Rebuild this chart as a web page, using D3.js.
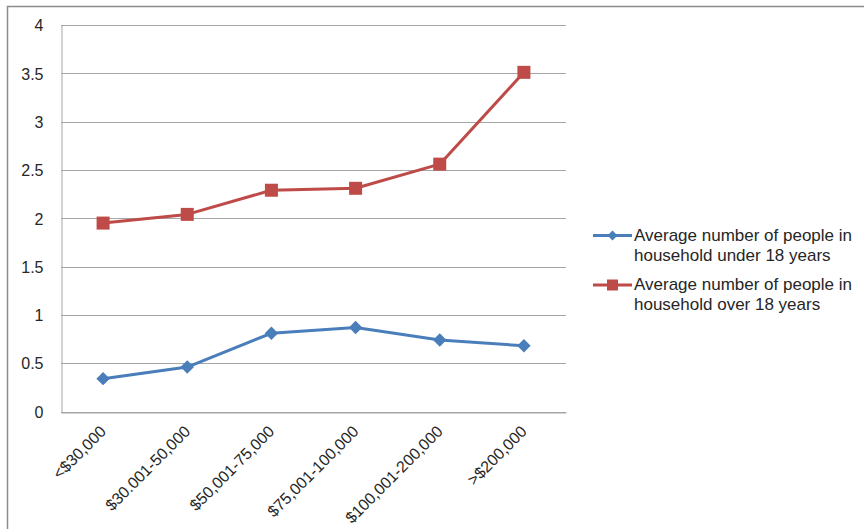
<!DOCTYPE html>
<html>
<head>
<meta charset="utf-8">
<script src="https://cdn.jsdelivr.net/npm/d3@7"></script>
<style>
  html, body { margin: 0; padding: 0; background: #fff; }
  svg { display: block; font-family: "Liberation Sans", Arial, sans-serif; }
</style>
</head>
<body>
<svg id="chart" width="864" height="529"></svg>
<script>
// Household composition by income bracket
const categories = ["<$30,000", "$30.001-50,000", "$50,001-75,000", "$75,001-100,000", "$100,001-200,000", ">$200,000"];
const under18 = [0.34, 0.46, 0.81, 0.87, 0.74, 0.68];
const over18 = [1.95, 2.04, 2.29, 2.31, 2.56, 3.51];
const yTicks = [0, 0.5, 1, 1.5, 2, 2.5, 3, 3.5, 4];
const seriesNames = ["Average number of people in household under 18 years",
                     "Average number of people in household over 18 years"];

const svg = d3.select("#chart");
const W = 864, H = 529;
const plot = { left: 61, right: 566, top: 25, bottom: 411.5 };
const textColor = "#262626";

// Outer chart frame
svg.append("rect")
  .attr("x", 7.5).attr("y", 6.5)
  .attr("width", W + 20).attr("height", H + 20)
  .attr("fill", "none").attr("stroke", "#8c8c8c").attr("stroke-width", 1.5);

const x = d3.scaleBand().domain(categories).range([plot.left, plot.right]);
const y = d3.scaleLinear().domain([0, 4]).range([plot.bottom, plot.top]);

// Horizontal gridlines
svg.append("g")
  .selectAll("line").data(yTicks).join("line")
  .attr("x1", plot.left).attr("x2", plot.right)
  .attr("y1", d => Math.round(y(d)) + 0.5).attr("y2", d => Math.round(y(d)) + 0.5)
  .attr("stroke", "#a6a6a6").attr("stroke-width", 1);

// Y axis
const yAxis = svg.append("g")
  .attr("transform", `translate(${plot.left + 0.5},0)`)
  .call(d3.axisLeft(y).tickValues(yTicks).tickSize(0).tickPadding(18).tickFormat(d3.format("")));
yAxis.select(".domain").attr("stroke", "#a6a6a6");
yAxis.selectAll("text").attr("font-size", 16).attr("fill", textColor).attr("dy", "0.36em");

// X axis
const xAxis = svg.append("g")
  .attr("transform", `translate(0,${Math.round(plot.bottom) + 0.5})`)
  .call(d3.axisBottom(x).tickSize(0).tickPadding(0));
xAxis.select(".domain").attr("stroke", "#a6a6a6");
xAxis.selectAll("text")
  .attr("font-size", 16).attr("fill", textColor)
  .attr("text-anchor", "end")
  .attr("dy", 0)
  .attr("transform", "translate(4,20) rotate(-45)");

const line = d3.line()
  .x((d, i) => x(categories[i]) + x.bandwidth() / 2)
  .y(d => y(d));

const blue = "#4a7ebb", red = "#be4b48";

// Marker shapes: a diamond is a square turned by 45 degrees
function marker(sel, kind, side) {
  sel.append("rect")
    .attr("x", -side / 2).attr("y", -side / 2)
    .attr("width", side).attr("height", side)
    .attr("transform", kind === "diamond" ? "rotate(45)" : null);
}

function drawSeries(vals, color, kind, side) {
  svg.append("path").datum(vals)
    .attr("d", line).attr("fill", "none")
    .attr("stroke", color).attr("stroke-width", 3).attr("stroke-linejoin", "round");
  svg.append("g").attr("fill", color)
    .selectAll("g").data(vals).join("g")
    .attr("transform", (d, i) => `translate(${x(categories[i]) + x.bandwidth() / 2},${y(d)})`)
    .each(function () { marker(d3.select(this), kind, side); });
}
drawSeries(under18, blue, "diamond", 9.5);
drawSeries(over18, red, "square", 13);

// Legend
const legend = svg.append("g");
const legendItems = [
  { name: seriesNames[0], color: blue, kind: "diamond", side: 7, y: 235.5 },
  { name: seriesNames[1], color: red, kind: "square", side: 11, y: 285 }
];
legendItems.forEach(it => {
  legend.append("line")
    .attr("x1", 593).attr("x2", 632).attr("y1", it.y).attr("y2", it.y)
    .attr("stroke", it.color).attr("stroke-width", 3);
  const m = legend.append("g").attr("fill", it.color)
    .attr("transform", `translate(612.5,${it.y})`);
  marker(m, it.kind, it.side);
  const words = it.name.split(" ");
  const t = legend.append("text").attr("font-size", 17).attr("fill", textColor);
  t.append("tspan").attr("x", 634).attr("y", it.y + 5).text(words.slice(0, 5).join(" "));
  t.append("tspan").attr("x", 634).attr("y", it.y + 25).text(words.slice(5).join(" "));
});
</script>
</body>
</html>
